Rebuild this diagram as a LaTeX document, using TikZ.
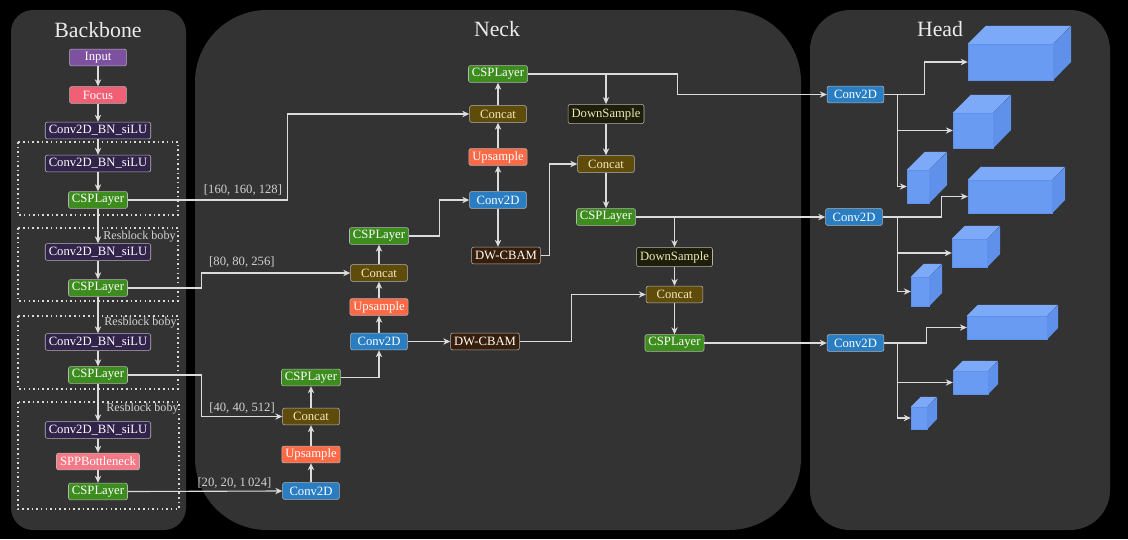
\documentclass[tikz,border=0pt]{standalone}
\usepackage{fontspec}
\setmainfont{Liberation Serif}
\usepackage{tikz}
\usetikzlibrary{positioning, arrows.meta, calc}

\definecolor{panelgray}{HTML}{333333}
\definecolor{edgegray}{HTML}{B4B4B4}
\definecolor{linegray}{HTML}{DCDCDC}
\definecolor{lblgray}{HTML}{D2D2D2}
\definecolor{inpurple}{HTML}{7D50A0}
\definecolor{focuspink}{HTML}{F05F73}
\definecolor{cbspurple}{HTML}{32234B}
\definecolor{cspgreen}{HTML}{3C8C1E}
\definecolor{spppink}{HTML}{F57887}
\definecolor{catolive}{HTML}{5F4B0A}
\definecolor{cattext}{HTML}{F5E8B8}
\definecolor{upsorange}{HTML}{FF6946}
\definecolor{convblue}{HTML}{287DC3}
\definecolor{cbambrown}{HTML}{371E0A}
\definecolor{downdark}{HTML}{1E1E0A}
\definecolor{downtext}{HTML}{E8EAB8}
\definecolor{cubefront}{HTML}{6A9BF2}
\definecolor{cubetop}{HTML}{7DAAF8}
\definecolor{cubeside}{HTML}{5F90EA}

\begin{document}
\begin{tikzpicture}[
    x=0.025cm, y=-0.025cm,
    blk/.style={draw=edgegray, line width=0.4pt, rounded corners=1.5pt, text=white,
        font=\fontsize{9}{10}\selectfont, minimum width=1.42cm, minimum height=0.42cm,
        inner xsep=2.5pt, inner ysep=1pt},
    inp/.style={blk, fill=inpurple},
    focus/.style={blk, fill=focuspink},
    cbs/.style={blk, fill=cbspurple},
    csp/.style={blk, fill=cspgreen},
    spp/.style={blk, fill=spppink},
    cat/.style={blk, fill=catolive, text=cattext},
    ups/.style={blk, fill=upsorange},
    conv/.style={blk, fill=convblue},
    cbam/.style={blk, fill=cbambrown},
    down/.style={blk, fill=downdark, text=downtext, minimum height=0.48cm},
    arr/.style={draw=linegray, line width=0.8pt, -{Stealth[length=5pt,width=4.5pt]}},
    lbl/.style={text=lblgray, font=\fontsize{9}{10}\selectfont, inner sep=1.5pt},
    rblbl/.style={lbl, font=\fontsize{8.6}{10}\selectfont, anchor=west},
    title/.style={text=white!92!black, font=\fontsize{15.5}{18}\selectfont},
    resbox/.style={draw=white!85!black, line width=1.1pt, dash pattern=on 1.1pt off 2.2pt},
    cube/.style={fill=cubefront, draw=cubeside, line width=0.3pt, inner sep=0pt}
]
    % background and panels
    \fill[black] (0,0) rectangle (1128,539);
    \useasboundingbox (0,0) rectangle (1128,539);
    \fill[panelgray, rounded corners=0.55cm] (11,10) rectangle (186,530);
    \fill[panelgray, rounded corners=1.8cm] (195,10) rectangle (801,530);
    \fill[panelgray, rounded corners=1cm] (810,10) rectangle (1110,530);

    \node[title] (tback) at (98,30) {Backbone};
    \node[title] (tneck) at (497,29) {Neck};
    \node[title] (thead) at (940,29) {Head};

    % Backbone
    \draw[resbox] (18,142) rectangle (178,215);
    \draw[resbox] (18,228) rectangle (178,301);
    \draw[resbox] (18,316) rectangle (178,389);
    \draw[resbox] (18,402) rectangle (179,509);

    \node[inp] (input) at (98,57.5) {Input};
    \node[focus] (focus) at (98,95) {Focus};
    \node[cbs] (cbs0) at (98,130.5) {Conv2D\_BN\_siLU};
    \node[cbs] (cbs1) at (98,163.5) {Conv2D\_BN\_siLU};
    \node[csp] (bcsp1) at (98,200) {CSPLayer};
    \node[cbs] (cbs2) at (98,252) {Conv2D\_BN\_siLU};
    \node[csp] (bcsp2) at (98,288) {CSPLayer};
    \node[cbs] (cbs3) at (98,342) {Conv2D\_BN\_siLU};
    \node[csp] (bcsp3) at (98,375) {CSPLayer};
    \node[cbs] (cbs4) at (98,430) {Conv2D\_BN\_siLU};
    \node[spp] (spp) at (98,461.5) {SPPBottleneck};
    \node[csp] (bcsp4) at (98,491.5) {CSPLayer};

    \node[rblbl] (rb1) at (101,237) {Resblock boby};
    \node[rblbl] (rb2) at (102,323) {Resblock boby};
    \node[rblbl] (rb3) at (104,409) {Resblock boby};

    \foreach \a/\b in {input/focus, focus/cbs0, cbs0/cbs1, cbs1/bcsp1, bcsp1/cbs2,
        cbs2/bcsp2, bcsp2/cbs3, cbs3/bcsp3, bcsp3/cbs4, cbs4/spp, spp/bcsp4}
        \draw[arr] (\a) -- (\b);

    % Neck
    \node[conv] (nconv1) at (311,491) {Conv2D};
    \node[ups] (nups1) at (311,454.5) {Upsample};
    \node[cat] (ncat1) at (311,416.5) {Concat};
    \node[csp] (ncsp1) at (311,377.5) {CSPLayer};
    \node[conv] (nconv2) at (379,341.5) {Conv2D};
    \node[ups] (nups2) at (379,307) {Upsample};
    \node[cat] (ncat2) at (379,273) {Concat};
    \node[csp] (ncsp2) at (379,236) {CSPLayer};
    \node[cbam] (ncbam1) at (485,341.5) {DW-CBAM};
    \node[conv] (nconv3) at (498,200) {Conv2D};
    \node[ups] (nups3) at (498,157) {Upsample};
    \node[cat] (ncat3) at (498,114) {Concat};
    \node[csp] (ncsp3) at (498,74) {CSPLayer};
    \node[cbam] (ncbam2) at (506,255.5) {DW-CBAM};
    \node[down] (ndown1) at (606,114) {DownSample};
    \node[cat] (ncat4) at (606,164) {Concat};
    \node[csp] (ncsp4) at (606,217) {CSPLayer};
    \node[down] (ndown2) at (674.5,257) {DownSample};
    \node[cat] (ncat5) at (674.5,294.5) {Concat};
    \node[csp] (ncsp5) at (674.5,343) {CSPLayer};

    \draw[arr] (bcsp1.east) -- ++(160,0) node[lbl, pos=0.72, above=1pt] {[160, 160, 128]} |- (ncat3.west);
    \draw[arr] (bcsp2.east) -- ++(74,0) |- (ncat2.west) node[lbl, pos=0.635, above=2pt] {[80, 80, 256]};
    \draw[arr] (bcsp3.east) -- ++(74,0) |- (ncat1.west) node[lbl, pos=0.75, above=0pt] {[40, 40, 512]};
    \draw[arr] (bcsp4.east) -- (nconv1.west) node[lbl, pos=0.69, above=0pt] {[20, 20, 1\,024]};

    \foreach \a/\b in {nconv1/nups1, nups1/ncat1, ncat1/ncsp1, nconv2/nups2, nups2/ncat2,
        ncat2/ncsp2, nconv2/ncbam1, nconv3/nups3, nups3/ncat3, ncat3/ncsp3,
        ndown1/ncat4, ncat4/ncsp4, ndown2/ncat5, ncat5/ncsp5}
        \draw[arr] (\a) -- (\b);

    \draw[arr] (ncsp1.east) -| (nconv2.south);
    \draw[arr] (ncsp2.east) -- ++(31,0) |- (nconv3.west);
    \draw[arr] (nconv3.south) -- (nconv3.south |- ncbam2.north);
    \draw[arr] (ncbam2.east) -- ++(9,0) |- (ncat4.west);
    \draw[arr] (ncbam1.east) -- ++(52,0) |- (ncat5.west);
    \draw[arr] (ncsp3.east -| ndown1) -- (ndown1);
    \draw[arr] (ncsp4.east -| ndown2) -- (ndown2);

    % Head
    \node[conv] (h1) at (855.5,94.5) {Conv2D};
    \node[conv] (h2) at (854,217) {Conv2D};
    \node[conv] (h3) at (855.5,343) {Conv2D};

    \draw[arr] (ncsp3.east) -- ++(150,0) |- (h1.west);
    \draw[arr] (ncsp4.east) -- (ncsp4.east -| h2.west);
    \draw[arr] (ncsp5.east) -- (ncsp5.east -| h3.west);

    \foreach \n/\x/\y/\w/\h/\cd in {c1/1010.5/62/85/36/18, c2/973/130.5/40/35/18,
        c3/918/186.5/22/33/18, c4/1010/196.5/84/33/13, c5/969.5/253/35/28/13,
        c6/920/291.5/18/29/13, c7/1007/327.5/80/23/11, c8/970.5/382.5/35/23/10,
        c9/919/418/16/22/10} {
        \node[cube, minimum width=\w*0.025cm, minimum height=\h*0.025cm] (\n) at (\x,\y) {};
        \fill[cubetop] (\n.north west) -- ++(\cd,-\cd) -- ++(\w,0) -- (\n.north east) -- cycle;
        \fill[cubeside] (\n.north east) -- ++(\cd,-\cd) -- ++(0,\h) -- (\n.south east) -- cycle;
    }

    \draw[arr] (h1.east) -- ++(40,0) |- (c1.west);
    \draw[arr] (h1.east) ++(13,0) |- (c2.west);
    \draw[arr] (h1.east) -- ++(13,0) |- (c3.west);
    \draw[arr] (h2.east) -- ++(59,0) |- (c4.west);
    \draw[arr] (h2.east) ++(15,0) |- (c5.west);
    \draw[arr] (h2.east) -- ++(15,0) |- (c6.west);
    \draw[arr] (h3.east) -- ++(42,0) |- (c7.west);
    \draw[arr] (h3.east) ++(13,0) |- (c8.west);
    \draw[arr] (h3.east) -- ++(13,0) |- (c9.west);
\end{tikzpicture}
\end{document}
